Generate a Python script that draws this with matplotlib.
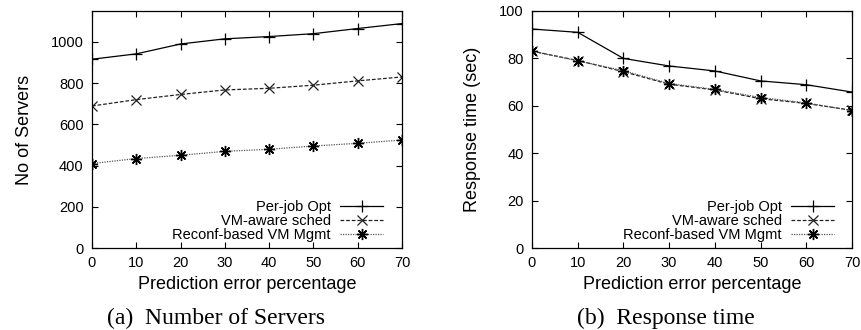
import matplotlib
matplotlib.use("Agg")
import matplotlib.pyplot as plt

x = [0, 10, 20, 30, 40, 50, 60, 70]
servers_perjob = [916, 942, 990, 1015, 1026, 1040, 1065, 1089]
servers_vmaware = [689, 720, 745, 767, 775, 790, 811, 830]
servers_reconf = [410, 434, 450, 469, 479, 495, 508, 524]

resp_perjob = [92.4, 91.0, 80.0, 76.8, 74.7, 70.5, 68.9, 65.8]
resp_vmaware = [83.1, 79.1, 74.4, 69.1, 66.7, 63.0, 61.0, 58.1]
resp_reconf = [83.0, 79.0, 74.8, 69.4, 66.9, 63.5, 61.2, 58.0]

labels = ["Per-job Opt", "VM-aware sched", "Reconf-based VM Mgmt"]

SANS = ["Liberation Sans", "DejaVu Sans"]
SERIF = ["Liberation Serif", "DejaVu Serif"]
plt.rcParams["font.family"] = SANS

fig = plt.figure(figsize=(8.62, 3.30), dpi=100)
ax1 = fig.add_axes([92/862, 82/330, 310/862, 237/330])
ax2 = fig.add_axes([532/862, 82/330, 320/862, 237/330])

star = (8, 2, 0)

def draw(ax, a, b, c):
    ax.plot(x, a, color="black", lw=0.9, ls="-", marker="+", ms=8, mew=0.9,
            label=labels[0])
    ax.plot(x, b, color="#222222", lw=0.9, ls=(0, (3, 1.5)), marker="x", ms=7,
            mew=0.9, label=labels[1])
    ax.plot(x, c, color="#555555", lw=0.9, ls=(0, (1, 1)), marker=star, ms=8,
            mew=1.0, mec="black", label=labels[2])
    ax.set_xlim(0, 70)
    ax.set_xticks(x)
    ax.tick_params(direction="in", top=True, right=True, length=4, width=0.8,
                   labelsize=10.5, pad=6)
    for s in ax.spines.values():
        s.set_linewidth(0.9)
    ax.set_xlabel("Prediction error percentage", fontsize=13, labelpad=4)

draw(ax1, servers_perjob, servers_vmaware, servers_reconf)
ax1.set_ylim(0, 1150)
ax1.set_yticks([0, 200, 400, 600, 800, 1000])
ax1.set_ylabel("No of Servers", fontsize=13, labelpad=13)

draw(ax2, resp_perjob, resp_vmaware, resp_reconf)
ax2.set_ylim(0, 100)
ax2.set_yticks([0, 20, 40, 60, 80, 100])
ax2.set_ylabel("Response time (sec)", fontsize=13, labelpad=13)

for ax, bx in ((ax1, 0.94), (ax2, 0.945)):
    ax.legend(loc="lower right", bbox_to_anchor=(bx, 0.025), frameon=False,
              markerfirst=False, fontsize=10.5, handlelength=3.0,
              handletextpad=0.6, labelspacing=0.0, borderpad=0,
              borderaxespad=0)

fig.text(216/862, 1 - 318/330, "(a)  Number of Servers", family=SERIF,
         fontsize=17, ha="center", va="center")
fig.text(666/862, 1 - 318/330, "(b)  Response time", family=SERIF,
         fontsize=17, ha="center", va="center")

fig.savefig("out.png", dpi=100)
